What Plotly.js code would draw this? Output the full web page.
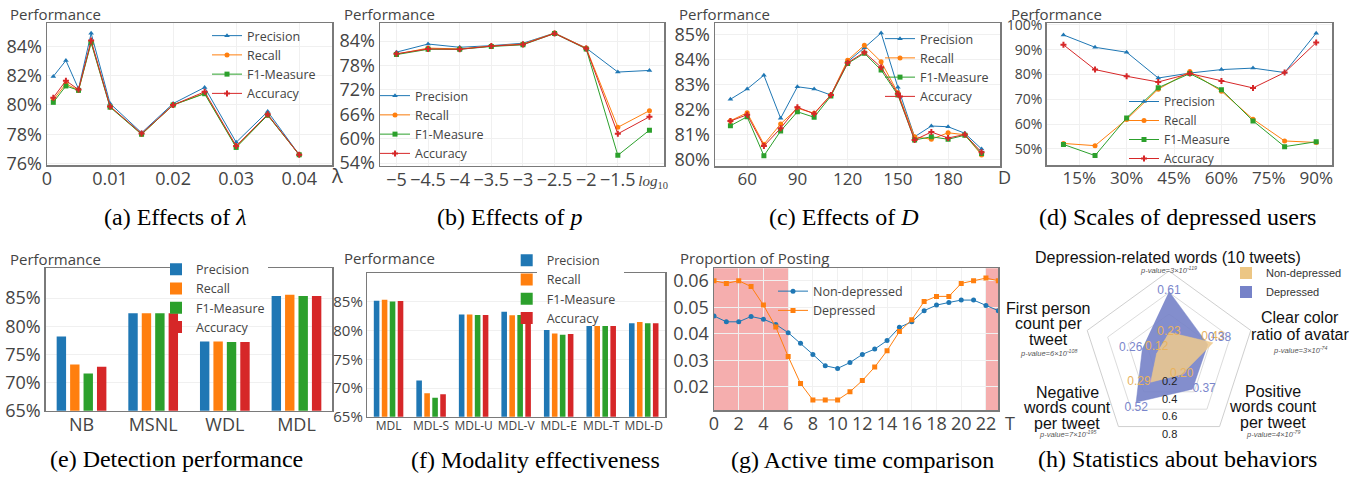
<!DOCTYPE html>
<html><head><meta charset="utf-8">
<script src="https://cdn.plot.ly/plotly-3.0.1.min.js"></script>
<style>html,body{margin:0;padding:0;background:#fff;}#chart{width:1366px;height:479px;}</style>
</head><body><div id="chart"></div>
<script>
// ---------- data ----------
const seriesNames = ['Precision', 'Recall', 'F1-Measure', 'Accuracy'];

const lambdaX = [0.001, 0.003, 0.005, 0.007, 0.01, 0.015, 0.02, 0.025, 0.03, 0.035, 0.04];
const lambdaPrecision = [81.95, 83.04, 81.1, 84.9, 80.1, 78.1, 80.1, 81.2, 77.45, 79.55, 76.6];
const lambdaRecall = [80.35, 81.45, 81.0, 84.3, 79.9, 78.0, 80.0, 80.8, 77.15, 79.3, 76.6];
const lambdaF1 = [80.18, 81.3, 81.0, 84.25, 79.85, 78.0, 80.0, 80.77, 77.1, 79.3, 76.6];
const lambdaAccuracy = [80.5, 81.66, 81.05, 84.4, 79.9, 78.05, 80.0, 80.9, 77.2, 79.36, 76.6];
const lambdaXTicks = [0, 0.01, 0.02, 0.03, 0.04];
const lambdaYTicks = [76, 78, 80, 82, 84];

const pX = [-5, -4.5, -4, -3.5, -3, -2.5, -2, -1.5, -1];
const pTickText = ['\u22125', '\u22124.5', '\u22124', '\u22123.5', '\u22123', '\u22122.5', '\u22122', '\u22121.5',
  '<span style="font-family:Liberation Serif;font-size:15px">\u2002<i>log</i><sub>10</sub></span>'];
const pPrecision = [81.3, 83.3, 82.5, 82.9, 83.5, 86.0, 82.3, 76.4, 76.8];
const pRecall = [80.8, 82.3, 82.1, 82.8, 83.3, 86.0, 82.3, 62.8, 66.9];
const pF1 = [80.7, 82.0, 82.0, 82.7, 83.1, 85.9, 82.1, 55.9, 62.1];
const pAccuracy = [80.9, 82.1, 82.0, 82.8, 83.2, 85.9, 82.2, 61.2, 65.4];
const pYTicks = [54, 60, 66, 72, 78, 84];

const dimX = [50, 60, 70, 80, 90, 100, 110, 120, 130, 140, 150, 160, 170, 180, 190, 200];
const dimPrecision = [82.4, 82.81, 83.36, 81.64, 82.9, 82.81, 82.57, 83.9, 84.46, 85.05, 82.88, 80.9, 81.33, 81.3, 81.04, 80.41];
const dimRecall = [81.54, 81.86, 80.6, 81.41, 82.04, 81.84, 82.57, 83.96, 84.56, 83.9, 82.66, 80.9, 80.8, 81.06, 80.98, 80.17];
const dimF1 = [81.34, 81.7, 80.14, 81.13, 81.9, 81.68, 82.53, 83.83, 84.24, 83.57, 82.57, 80.77, 80.9, 80.8, 80.96, 80.23];
const dimAccuracy = [81.53, 81.78, 80.53, 81.24, 82.08, 81.82, 82.57, 83.86, 84.28, 83.68, 82.62, 80.77, 81.09, 80.85, 80.99, 80.28];
const dimXTicks = [60, 90, 120, 150, 180];
const dimYTicks = [80, 81, 82, 83, 84, 85];

const scaleX = [10, 20, 30, 40, 50, 60, 70, 80, 90];
const scalePrecision = [96.0, 91.0, 89.0, 78.6, 80.6, 82.0, 82.6, 80.8, 96.7];
const scaleRecall = [52.2, 51.3, 61.9, 74.1, 81.2, 73.3, 62.0, 53.2, 52.6];
const scaleF1 = [51.8, 47.3, 62.5, 74.7, 80.4, 73.9, 61.3, 50.9, 52.9];
const scaleAccuracy = [92.0, 82.0, 79.3, 77.0, 80.4, 77.4, 74.6, 80.8, 92.9];
const scaleXTicks = [15, 30, 45, 60, 75, 90];
const scaleYTicks = [50, 60, 70, 80, 90, 100];

const methods = ['NB', 'MSNL', 'WDL', 'MDL'];
const detPrecision = [78.2, 82.3, 77.3, 85.4];
const detRecall = [73.2, 82.3, 77.3, 85.6];
const detF1 = [71.6, 82.3, 77.2, 85.4];
const detAccuracy = [72.8, 82.3, 77.2, 85.4];
const barYTicks = [65, 70, 75, 80, 85];

const modalities = ['MDL', 'MDL-S', 'MDL-U', 'MDL-V', 'MDL-E', 'MDL-T', 'MDL-D'];
const modPrecision = [85.2, 71.3, 82.8, 83.3, 80.1, 80.8, 81.3];
const modRecall = [85.4, 69.1, 82.8, 82.7, 79.5, 80.8, 81.5];
const modF1 = [85.1, 68.3, 82.75, 82.75, 79.3, 80.8, 81.3];
const modAccuracy = [85.15, 68.9, 82.75, 82.85, 79.4, 80.8, 81.3];

const hours = [0,1,2,3,4,5,6,7,8,9,10,11,12,13,14,15,16,17,18,19,20,21,22,23];
const nonDepressedPosting = [0.0467, 0.0445, 0.0445, 0.0465, 0.0455, 0.0435, 0.0404, 0.0364, 0.0322, 0.0279, 0.0269, 0.0291,
  0.0322, 0.0342, 0.0374, 0.0424, 0.0445, 0.0487, 0.0508, 0.0518, 0.0527, 0.0527, 0.0507, 0.0487];
const depressedPosting = [0.0600, 0.0590, 0.0600, 0.0578, 0.0508, 0.0425, 0.0314, 0.0212, 0.0150, 0.0150, 0.0150, 0.0181,
  0.0223, 0.0274, 0.0336, 0.0408, 0.0453, 0.0522, 0.0541, 0.0541, 0.0590, 0.0600, 0.0610, 0.0600];
const hourTicks = [0, 2, 4, 6, 8, 10, 12, 14, 16, 18, 20, 22];
const postingTicks = [0.02, 0.03, 0.04, 0.05, 0.06];
const nightRanges = [[0, 6], [22, 23]];

const behaviorCats = ['Depression-related words (10 tweets)', 'Clear color ratio of avatar', 'Positive words count per tweet',
  'Negative words count per tweet', 'First person count per tweet'];
const behaviorLabelLines = [['Depression-related words (10 tweets)'], ['Clear color', 'ratio of avatar'],
  ['Positive', 'words count', 'per tweet'], ['Negative', 'words count', 'per tweet'], ['First person', 'count per', 'tweet']];
const behaviorPValues = ['p-value=3\u00d710<sup>-119</sup>', 'p-value=3\u00d710<sup>-74</sup>', 'p-value=4\u00d710<sup>-79</sup>',
  'p-value=7\u00d710<sup>-195</sup>', 'p-value=6\u00d710<sup>-108</sup>'];
const nonDepressedBehavior = [0.23, 0.43, 0.20, 0.29, 0.12];
const depressedBehavior = [0.61, 0.38, 0.37, 0.52, 0.26];
const radialTicks = [0.2, 0.4, 0.6, 0.8];
const radialMax = 0.8;

// ---------- helpers ----------
const W = 1366, H = 479;
const fx = v => v / W;
const fy = v => 1 - v / H;
const colors = ['#1f77b4', '#ff7f0e', '#2ca02c', '#d62728'];
const symbols = ['triangle-up', 'circle', 'square', 'cross'];
const pct = arr => arr.map(v => v + '%');

function lineSet(x, ys, xa, ya, legend) {
  return ys.map((y, i) => ({
    type: 'scatter', mode: 'lines+markers', x: x, y: y, name: seriesNames[i],
    xaxis: xa, yaxis: ya, legend: legend,
    line: {color: colors[i], width: 1},
    marker: {color: colors[i], symbol: symbols[i], size: 5}
  }));
}
function barSet(x, ys, xa, ya, legend) {
  return ys.map((y, i) => ({
    type: 'bar', x: x, y: y, name: seriesNames[i], xaxis: xa, yaxis: ya, legend: legend,
    marker: {color: colors[i]}
  }));
}
function ax(xr, yr, isX, opts) {
  const base = {
    showline: true, mirror: true, linecolor: '#7a7a7a', linewidth: 1.5, ticks: '',
    showgrid: true, gridcolor: '#f0f0f0', zeroline: false, tickangle: 0,
    tickfont: {size: 18, color: '#444'}, fixedrange: true
  };
  if (isX) base.ticklabelstandoff = -3;
  base.domain = isX ? [fx(xr[0]), fx(xr[1])] : [fy(yr[1]), fy(yr[0])];
  return Object.assign(base, opts);
}

const traces = [];
traces.push(...lineSet(lambdaX, [lambdaPrecision, lambdaRecall, lambdaF1, lambdaAccuracy], 'x', 'y', 'legend'));
traces.push(...lineSet(pX, [pPrecision, pRecall, pF1, pAccuracy], 'x2', 'y2', 'legend2'));
traces.push(...lineSet(dimX, [dimPrecision, dimRecall, dimF1, dimAccuracy], 'x3', 'y3', 'legend3'));
traces.push(...lineSet(scaleX, [scalePrecision, scaleRecall, scaleF1, scaleAccuracy], 'x4', 'y4', 'legend4'));
traces.push(...barSet(methods, [detPrecision, detRecall, detF1, detAccuracy], 'x5', 'y5', 'legend5'));
traces.push(...barSet(modalities, [modPrecision, modRecall, modF1, modAccuracy], 'x6', 'y6', 'legend6'));
traces.push({type: 'scatter', mode: 'lines+markers', x: hours, y: nonDepressedPosting, name: 'Non-depressed',
  xaxis: 'x7', yaxis: 'y7', legend: 'legend7', line: {color: '#1f77b4', width: 1}, marker: {color: '#1f77b4', symbol: 'circle', size: 5}});
traces.push({type: 'scatter', mode: 'lines+markers', x: hours, y: depressedPosting, name: 'Depressed',
  xaxis: 'x7', yaxis: 'y7', legend: 'legend7', line: {color: '#ff7f0e', width: 1}, marker: {color: '#ff7f0e', symbol: 'square', size: 5}});

// radar
const depFill = 'rgba(118,130,200,0.9)';
const nonFill = 'rgba(240,202,140,0.85)';
traces.push({type: 'scatterpolar', r: depressedBehavior, theta: behaviorCats, fill: 'toself', mode: 'lines',
  line: {color: depFill, width: 0.5}, fillcolor: depFill, showlegend: false, subplot: 'polar'});
traces.push({type: 'scatterpolar', r: nonDepressedBehavior, theta: behaviorCats, fill: 'toself', mode: 'lines',
  line: {color: nonFill, width: 0.5}, fillcolor: nonFill, showlegend: false, subplot: 'polar'});
traces.push({type: 'scatterpolar', r: nonDepressedBehavior, theta: behaviorCats, mode: 'text',
  text: nonDepressedBehavior.map(v => v.toFixed(2)),
  textposition: ['middle center', 'top center', 'middle center', 'middle left', 'top center'],
  textfont: {family: 'Liberation Sans, Arial', size: 12, color: '#e8b35e'}, showlegend: false, subplot: 'polar'});
traces.push({type: 'scatterpolar', r: depressedBehavior, theta: behaviorCats, mode: 'text',
  text: depressedBehavior.map(v => v.toFixed(2)),
  textposition: ['middle center', 'top right', 'middle right', 'bottom center', 'middle left'],
  textfont: {family: 'Liberation Sans, Arial', size: 12, color: '#7a86cc'}, showlegend: false, subplot: 'polar'});
traces.push({type: 'scatterpolar', r: [null], theta: [behaviorCats[0]], mode: 'markers', name: 'Non-depressed',
  marker: {symbol: 'square', size: 12, color: 'rgb(236,198,132)'}, legend: 'legend8', subplot: 'polar'});
traces.push({type: 'scatterpolar', r: [null], theta: [behaviorCats[0]], mode: 'markers', name: 'Depressed',
  marker: {symbol: 'square', size: 12, color: 'rgb(118,130,200)'}, legend: 'legend8', subplot: 'polar'});

// ---------- layout ----------
function legendAt(left, top, size, bg, family, color) {
  return {x: fx(left), y: fy(top), xanchor: 'left', yanchor: 'top', bgcolor: bg || 'rgba(0,0,0,0)',
    borderwidth: 0, font: {size: size, color: color || '#444', family: family || 'Open Sans'}, traceorder: 'normal'};
}

const annotations = [];
function addText(text, x, y, size, opts) {
  annotations.push(Object.assign({text: text, x: fx(x), y: fy(y), xref: 'paper', yref: 'paper', showarrow: false,
    xanchor: 'left', yanchor: 'middle', font: {size: size, color: '#444', family: 'Open Sans'}}, opts || {}));
}
// axis titles
addText('Performance', 8, 14, 15);
addText('Performance', 342, 14, 15);
addText('Performance', 677, 14, 15);
addText('Performance', 1009, 14, 15);
addText('Performance', 8, 259, 15);
addText('Performance', 342, 258, 15);
addText('Proportion of Posting', 678, 258, 15);
addText('\u03bb', 329, 176, 20);
addText('D', 996, 177, 18);
addText('T', 1003, 423, 18);
// captions
const serif = 'Liberation Serif, Times New Roman, serif';
const caps = [['(a) Effects of <i>\u03bb</i>', 175, 217], ['(b) Effects of <i>p</i>', 510, 217],
  ['(c) Effects of <i>D</i>', 844, 217], ['(d) Scales of depressed users', 1177, 217],
  ['(e) Detection performance', 176, 459], ['(f) Modality effectiveness', 535, 460],
  ['(g) Active time comparison', 863, 460], ['(h) Statistics about behaviors', 1177, 459]];
caps.forEach(c => addText(c[0], c[1], c[2], 24, {xanchor: 'center', font: {size: 24, color: '#000', family: serif}}));

// radar geometry (pixels)
const radarCx = 1169, radarCy = 357, radarR = 86;
// radial tick labels placed on the bottom edge midpoints of the rings
radialTicks.forEach(t => addText(t.toFixed(1), radarCx, radarCy + t / radialMax * radarR * Math.cos(Math.PI / 5) + 7, 11,
  {xanchor: 'center', font: {size: 11, color: '#222', family: 'Liberation Sans, Arial'}}));
// radar category labels
const radarPos = [[1168, [257], 270], [1300, [317, 334], 350], [1273, [391, 406, 422], 434],
  [1067, [392, 407, 423], 434], [1048, [308, 323, 339], 353]];
behaviorLabelLines.forEach((lines, i) => {
  const p = radarPos[i];
  lines.forEach((ln, j) => addText(ln, p[0], p[1][j], 16,
    {xanchor: 'center', font: {size: 16, color: '#111', family: 'Liberation Sans, Arial'}}));
  addText('<i>' + behaviorPValues[i] + '</i>', p[0], p[2], 7.5,
    {xanchor: 'center', font: {size: 7.5, color: '#555', family: 'Liberation Sans, Arial'}});
});

const shapes = nightRanges.map(r => ({type: 'rect', xref: 'x7', yref: 'y7 domain', x0: r[0], x1: r[1], y0: 0, y1: 1,
  fillcolor: 'rgba(238,120,120,0.6)', line: {width: 0}, layer: 'below'}));
// gaps in the frame behind the bar-chart legends
shapes.push({type: 'line', xref: 'paper', yref: 'paper', x0: fx(180), x1: fx(268), y0: fy(268.3), y1: fy(268.3),
  line: {color: '#fff', width: 3}, layer: 'above'});
shapes.push({type: 'line', xref: 'paper', yref: 'paper', x0: fx(537), x1: fx(624), y0: fy(273.3), y1: fy(273.3),
  line: {color: '#fff', width: 3}, layer: 'above'});

const layout = {
  width: W, height: H, margin: {l: 0, r: 0, t: 0, b: 0, pad: 0},
  paper_bgcolor: '#fff', plot_bgcolor: 'rgba(0,0,0,0)',
  font: {family: 'Open Sans', color: '#444'},
  barmode: 'group', bargap: 0.25, bargroupgap: 0.3,
  showlegend: true,
  // (a)
  xaxis: ax([47, 332], null, true, {anchor: 'y', range: [0, 0.0452], tickvals: lambdaXTicks, ticktext: lambdaXTicks.map(String)}),
  yaxis: ax(null, [23, 165], false, {anchor: 'x', range: [75.9, 85.6], tickvals: lambdaYTicks, ticktext: pct(lambdaYTicks)}),
  // (b)
  xaxis2: ax([380, 664], null, true, {anchor: 'y2', range: [-5.26, -0.77], tickvals: pX, ticktext: pTickText}),
  yaxis2: ax(null, [23.3, 165.5], false, {anchor: 'x2', range: [53.4, 88.4], tickvals: pYTicks, ticktext: pct(pYTicks)}),
  // (c)
  xaxis3: ax([715, 1000], null, true, {anchor: 'y3', range: [40.8, 211], tickvals: dimXTicks, tickfont: {size: 17, color: '#444'}}),
  yaxis3: ax(null, [23, 166], false, {anchor: 'x3', range: [79.73, 85.45], tickvals: dimYTicks, ticktext: pct(dimYTicks)}),
  // (d)
  xaxis4: ax([1046.7, 1332], null, true, {anchor: 'y4', range: [4.7, 95], tickvals: scaleXTicks, ticktext: pct(scaleXTicks), tickfont: {size: 17, color: '#444'}}),
  yaxis4: ax(null, [23, 165], false, {anchor: 'x4', range: [43.5, 100.8], tickvals: scaleYTicks, ticktext: pct(scaleYTicks), tickfont: {size: 14, color: '#444'}}),
  // (e)
  xaxis5: ax([45.7, 332.3], null, true, {anchor: 'y5', showgrid: false}),
  yaxis5: ax(null, [268.3, 410.7], false, {anchor: 'x5', range: [65, 90.3], tickvals: barYTicks, ticktext: pct(barYTicks)}),
  // (f)
  xaxis6: ax([367.3, 665], null, true, {anchor: 'y6', showgrid: false, tickfont: {size: 12, color: '#444'}}),
  yaxis6: ax(null, [273.3, 416.7], false, {anchor: 'x6', range: [65, 90], tickvals: barYTicks, ticktext: pct(barYTicks), tickfont: {size: 15, color: '#444'}}),
  // (g)
  xaxis7: ax([714, 998.3], null, true, {anchor: 'y7', range: [0, 23], tickvals: hourTicks}),
  yaxis7: ax(null, [268.3, 410], false, {anchor: 'x7', range: [0.0112, 0.0647], tickvals: postingTicks, ticktext: postingTicks.map(v => v.toFixed(2))}),
  polar: {
    domain: {x: [fx(radarCx - radarR), fx(radarCx + radarR)], y: [fy(radarCy + radarR), fy(radarCy - radarR)]},
    gridshape: 'linear', bgcolor: 'rgba(0,0,0,0)',
    angularaxis: {rotation: 90, direction: 'clockwise', showticklabels: false, ticks: '', showgrid: false,
      showline: true, linecolor: '#cfcfcf', linewidth: 1},
    radialaxis: {range: [0, radialMax], tickvals: radialTicks, showticklabels: false, showline: false, ticks: '',
      gridcolor: '#dcdcdc'}
  },
  legend: legendAt(207, 21, 12.5),
  legend2: legendAt(375, 81, 12.5),
  legend3: legendAt(880, 24, 12.5),
  legend4: legendAt(1124, 87, 12),
  legend5: legendAt(156, 254.5, 12.5),
  legend6: legendAt(506.7, 245.5, 12.5),
  legend7: legendAt(773, 276.5, 12.5),
  legend8: legendAt(1226, 258.5, 11, 'rgba(0,0,0,0)', 'Liberation Sans, Arial', '#333'),
  annotations: annotations,
  shapes: shapes
};

Plotly.newPlot('chart', traces, layout, {staticPlot: true, displayModeBar: false});
</script></body></html>
